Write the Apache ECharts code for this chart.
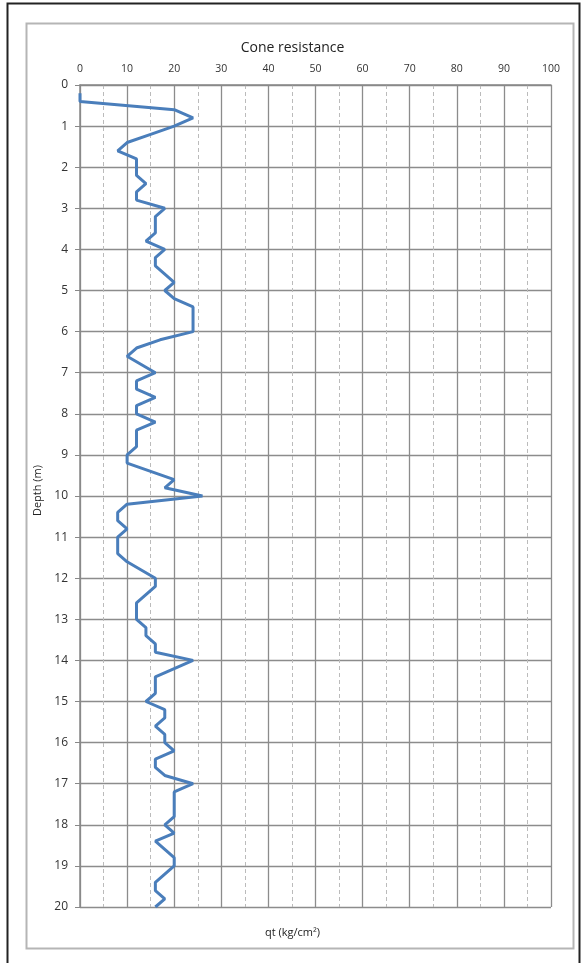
<!DOCTYPE html>
<html><head><meta charset="utf-8">
<script src="https://cdn.jsdelivr.net/npm/echarts@6/dist/echarts.min.js"></script>
<style>html,body{margin:0;padding:0;background:#fff}#c{width:585px;height:963px}</style>
</head><body><div id="c"></div>
<script>
var depths = [0.2,0.4,0.6,0.8,1.0,1.2,1.4,1.6,1.8,2.0,2.2,2.4,2.6,2.8,3.0,3.2,3.4,3.6,3.8,4.0,4.2,4.4,4.6,4.8,5.0,5.2,5.4,5.6,5.8,6.0,6.2,6.4,6.6,6.8,7.0,7.2,7.4,7.6,7.8,8.0,8.2,8.4,8.6,8.8,9.0,9.2,9.4,9.6,9.8,10.0,10.2,10.4,10.6,10.8,11.0,11.2,11.4,11.6,11.8,12.0,12.2,12.4,12.6,12.8,13.0,13.2,13.4,13.6,13.8,14.0,14.2,14.4,14.6,14.8,15.0,15.2,15.4,15.6,15.8,16.0,16.2,16.4,16.6,16.8,17.0,17.2,17.4,17.6,17.8,18.0,18.2,18.4,18.6,18.8,19.0,19.2,19.4,19.6,19.8,20.0];
var qtValues = [0,0,20,24,20,15,10,8,12,12,12,14,12,12,18,16,16,16,14,18,16,16,18,20,18,20,24,24,24,24,17,12,10,13,16,12,12,16,12,12,16,12,12,12,10,10,15,20,18,26,10,8,8,10,8,8,8,10,13,16,16,14,12,12,12,14,14,16,16,24,20,16,16,16,14,18,18,16,18,18,20,16,16,18,24,20,20,20,20,18,20,16,18,20,20,18,16,16,18,16];
var xTicks = [0,10,20,30,40,50,60,70,80,90,100];
var yTicks = [0,1,2,3,4,5,6,7,8,9,10,11,12,13,14,15,16,17,18,19,20];
var titleText = 'Cone resistance';
var xName = 'qt (kg/cm²)';
var yName = 'Depth (m)';

var pts = depths.map(function(d,i){return [qtValues[i], d];});
var FONT = '"Open Sans", "Liberation Sans", sans-serif';
var chart = echarts.init(document.getElementById('c'), null, {renderer:'canvas'});
chart.setOption({
  animation:false,
  backgroundColor:'#fff',
  title:[
    {text:titleText, left:'center', top:36, textStyle:{fontFamily:FONT, fontSize:14, fontWeight:'normal', color:'#222'}},
    {text:xName, left:'center', top:922, textStyle:{fontFamily:FONT, fontSize:11, fontWeight:'normal', color:'#222'}}
  ],
  graphic:[
    {type:'rect', shape:{x:7.5,y:3.5,width:572,height:980}, style:{fill:null, stroke:'#222', lineWidth:2}, z:-1},
    {type:'rect', shape:{x:26.5,y:23.5,width:547,height:925}, style:{fill:null, stroke:'#b5b5b5', lineWidth:2}, z:-1},
    {type:'text', left:32, top:465, rotation:Math.PI/2, style:{text:yName, font:'11px '+FONT, fill:'#222'}}
  ],
  grid:{left:80, right:34, top:85, bottom:56},
  xAxis:{
    type:'value', position:'top', min:0, max:100, interval:10,
    axisLine:{show:true, lineStyle:{color:'#888', width:1.5}},
    axisTick:{show:false},
    axisLabel:{fontFamily:FONT, fontSize:10.5, color:'#333', margin:10,
      formatter:function(v){return xTicks.indexOf(v)>=0?String(v):'';}},
    splitLine:{show:true, lineStyle:{color:'#8c8c8c', width:1.3}},
    minorTick:{show:false, splitNumber:2},
    minorSplitLine:{show:true, lineStyle:{color:'#bbb', type:[4,3], width:1}}
  },
  yAxis:{
    type:'value', inverse:true, min:0, max:20, interval:1,
    axisLine:{show:true, lineStyle:{color:'#888', width:1.5}},
    axisTick:{show:true, length:5, lineStyle:{color:'#888'}},
    axisLabel:{fontFamily:FONT, fontSize:12, color:'#333', margin:12,
      formatter:function(v){return yTicks.indexOf(v)>=0?String(v):'';}},
    splitLine:{show:true, lineStyle:{color:'#8c8c8c', width:1.3}}
  },
  series:[{
    type:'line', data:pts, showSymbol:false, symbol:'none',
    lineStyle:{color:'#4a7ebb', width:3}, z:5
  }]
});
</script></body></html>
